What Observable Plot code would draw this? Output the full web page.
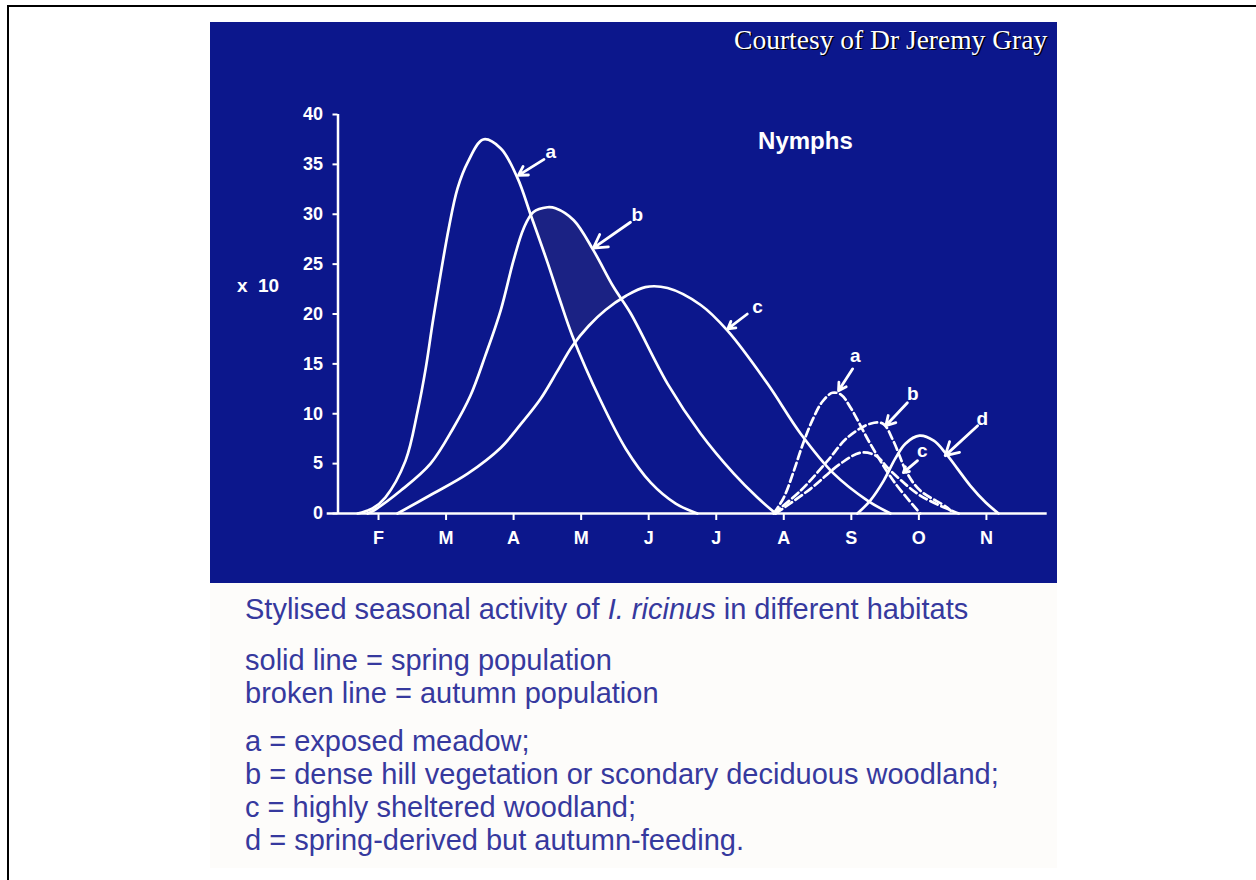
<!DOCTYPE html>
<html><head><meta charset="utf-8">
<script src="https://cdn.jsdelivr.net/npm/d3@7"></script>
<script src="https://cdn.jsdelivr.net/npm/@observablehq/plot@0.6"></script>
<style>
html,body{margin:0;padding:0;background:#fff;}
body{width:1256px;height:880px;position:relative;overflow:hidden;font-family:"Liberation Sans",Arial,sans-serif;}
#frame{position:absolute;left:7px;top:5px;width:1300px;height:1000px;border-left:2.5px solid #000;border-top:2.5px solid #000;}
#chart{position:absolute;left:210px;top:22px;width:847px;height:561px;}
#notes{position:absolute;left:210px;top:583px;width:847px;height:285px;background:#fdfcfa;}
.ln{position:absolute;left:35px;font-size:29px;line-height:29px;color:#36399e;white-space:nowrap;}
</style></head>
<body>
<div id="frame"></div>
<div id="chart"></div>
<div id="notes"></div>
<script>
// ---- data (month number, value x10) ----
const monthTicks = [2, 3, 4, 5, 6, 7, 8, 9, 10, 11];
const monthLabels = ["F", "M", "A", "M", "J", "J", "A", "S", "O", "N"];
const yTicks = [0, 5, 10, 15, 20, 25, 30, 35, 40];

// spring populations (solid)
const aSpring = [[1.69,0],[1.91,0.5],[2.10,1.6],[2.40,5.3],[2.58,10.3],[2.70,14.6],[2.81,19.5],[3.04,28.6],[3.17,32.6],[3.32,35.2],[3.55,37.5],[3.81,36.6],[4.06,33.6],[4.25,30.0],[4.50,25.2],[4.69,21.3],[4.87,17.8],[5.29,11.3],[5.66,6.5],[6.03,3.1],[6.40,1.0],[6.72,0]];
const bSpring = [[1.84,0],[1.93,0.3],[2.33,2.3],[2.77,5.0],[3.11,8.6],[3.36,11.8],[3.58,15.8],[3.81,20.4],[4.00,25.4],[4.15,28.6],[4.29,30.2],[4.50,30.7],[4.62,30.6],[4.89,29.4],[5.18,26.4],[5.48,22.7],[5.73,20.1],[6.28,13.0],[6.77,8.0],[7.26,4.0],[7.61,1.6],[7.88,0]];
const cSpring = [[2.28,0],[2.81,2.0],[3.32,4.0],[3.81,6.6],[4.10,8.9],[4.40,11.5],[4.65,14.3],[4.87,16.8],[5.11,18.8],[5.36,20.4],[5.66,21.8],[5.95,22.7],[6.28,22.6],[6.77,20.9],[7.17,18.3],[7.76,13.0],[8.25,8.0],[8.74,4.0],[9.24,1.3],[9.58,0]];
const dSpring = [[9.09,0],[9.28,1.3],[9.48,3.3],[9.65,5.5],[9.80,7.0],[10.01,7.8],[10.22,7.3],[10.39,6.1],[10.57,4.5],[10.76,2.8],[10.99,1.1],[11.18,0]];

// autumn populations (broken)
const aAutumn = [[7.85,0],[8.00,1.6],[8.14,4.1],[8.29,7.1],[8.44,9.6],[8.57,11.2],[8.72,12.1],[8.85,11.9],[8.99,10.6],[9.28,7.0],[9.62,3.3],[10.02,0]];
const bAutumn = [[7.85,0],[8.25,2.3],[8.65,5.3],[8.94,7.6],[9.28,9.0],[9.47,9.0],[9.62,7.3],[9.83,4.0],[10.02,2.3],[10.42,0.6],[10.51,0]];
const cAutumn = [[7.88,0],[8.40,2.5],[8.84,5.0],[9.14,6.1],[9.36,5.8],[9.58,4.3],[10.02,1.8],[10.59,0]];

// curve labels with arrows (label point, arrow tail, arrow head)
const curveLabels = [
  {t:"a", lx:4.55, ly:36.2, x1:4.45, y1:35.5, x2:4.07, y2:33.9},
  {t:"b", lx:5.83, ly:29.9, x1:5.73, y1:29.2, x2:5.18, y2:26.6},
  {t:"c", lx:7.61, ly:20.7, x1:7.46, y1:20.0, x2:7.17, y2:18.5},
  {t:"a", lx:9.06, ly:15.8, x1:9.02, y1:14.5, x2:8.81, y2:12.3},
  {t:"b", lx:9.91, ly:12.0, x1:9.83, y1:11.1, x2:9.51, y2:8.8},
  {t:"d", lx:10.94, ly:9.5, x1:10.87, y1:8.8, x2:10.39, y2:5.8},
  {t:"c", lx:10.05, ly:6.3, x1:9.98, y1:5.3, x2:9.77, y2:4.1}
];

const panelTitle = "Nymphs";
const unitLabel = "x\u00a0\u00a010";
const courtesy = "Courtesy of Dr Jeremy Gray";
const captionTitle = ["Stylised seasonal activity of ", "I. ricinus", " in different habitats"];
const styleLines = ["solid line = spring population", "broken line = autumn population"];
const habitatLines = ["a = exposed meadow;", "b = dense hill vegetation or scondary deciduous woodland;", "c = highly sheltered woodland;", "d = spring-derived but autumn-feeding."];

// ---- chart ----
const bg = "#0c178c", shade = "#1b2284";
const X = d => d[0], Y = d => d[1];
const CURVE = "catmull-rom";
const solid = s => Plot.line(s, {x: X, y: Y, curve: CURVE, stroke: "white", strokeWidth: 2.7});
const broken = s => Plot.line(s, {x: X, y: Y, curve: CURVE, stroke: "white", strokeWidth: 2.7, strokeDasharray: "8,4"});

const chart = Plot.plot({
  width: 847, height: 561,
  marginLeft: 127.5, marginRight: 10.3, marginTop: 92, marginBottom: 70,
  x: {domain: [1.4, 11.9]},
  y: {domain: [0, 40]},
  style: {background: bg, color: "white", fontFamily: "Liberation Sans, Arial, sans-serif", overflow: "visible"},
  marks: [
    Plot.areaY(bSpring, {x: X, y: Y, curve: CURVE, fill: shade}),
    Plot.areaY(aSpring, {x: X, y: Y, curve: CURVE, fill: bg}),
    Plot.areaY(cSpring, {x: X, y: Y, curve: CURVE, fill: bg}),
    Plot.ruleX([1.4], {y1: 0, y2: 40, stroke: "white", strokeWidth: 2.5}),
    Plot.ruleY([0], {x1: 1.24, x2: 11.9, stroke: "white", strokeWidth: 2.5}),
    Plot.axisY({ticks: yTicks, anchor: "left", tickSize: 5, tickPadding: 10, fontSize: 18, fontWeight: "bold", label: null, strokeWidth: 2}),
    Plot.axisX({ticks: monthTicks, anchor: "bottom", tickSize: 7, tickPadding: 11, tickFormat: d => monthLabels[monthTicks.indexOf(d)], fontSize: 18, fontWeight: "bold", label: null, strokeWidth: 2}),
    solid(aSpring), solid(bSpring), solid(cSpring), solid(dSpring),
    broken(aAutumn), broken(bAutumn), broken(cAutumn),
    Plot.arrow(curveLabels, {x1: "x1", y1: "y1", x2: "x2", y2: "y2", stroke: "white", strokeWidth: 2.8, headLength: 10, headAngle: 60}),
    Plot.text(curveLabels, {x: "lx", y: "ly", text: "t", fill: "white", fontWeight: "bold", fontSize: 19}),
    Plot.text([panelTitle], {x: 8.32, y: 37.36, text: d => d, fill: "white", fontWeight: "bold", fontSize: 24}),
    Plot.text([unitLabel], {x: 0.216, y: 22.84, text: d => d, fill: "white", fontWeight: "bold", fontSize: 19}),
    Plot.text([courtesy], {frameAnchor: "top-right", textAnchor: "end", lineAnchor: "middle", dx: 1.5, dy: -73.3, text: d => d, fill: "black", fontFamily: "Liberation Serif, Times New Roman, serif", fontSize: 27.5}),
    Plot.text([courtesy], {frameAnchor: "top-right", textAnchor: "end", lineAnchor: "middle", dx: 0, dy: -74.8, text: d => d, fill: "white", fontFamily: "Liberation Serif, Times New Roman, serif", fontSize: 27.5})
  ]
});
document.getElementById("chart").appendChild(chart);

// ---- caption block ----
const notes = document.getElementById("notes");
const tops = [11.5, 62.5, 95.5, 143.5, 176.5, 209.5, 242.5];
function addLine(top, html) {
  const d = document.createElement("div");
  d.className = "ln";
  d.style.top = top + "px";
  d.innerHTML = html;
  notes.appendChild(d);
}
addLine(tops[0], captionTitle[0] + "<i>" + captionTitle[1] + "</i>" + captionTitle[2]);
styleLines.forEach((t, i) => addLine(tops[1 + i], t));
habitatLines.forEach((t, i) => addLine(tops[3 + i], t));
</script>
</body></html>
